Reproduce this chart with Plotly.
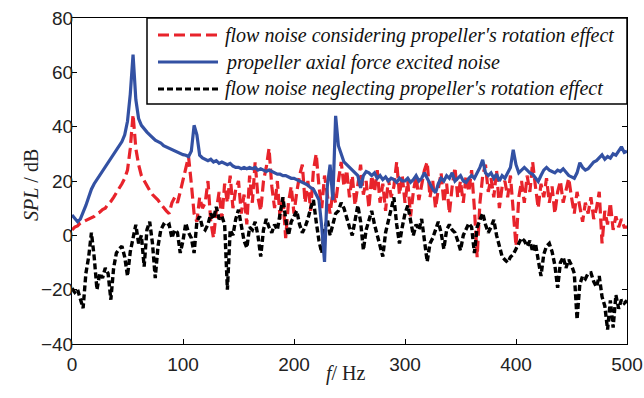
import numpy as np
import plotly.graph_objects as go

# frequency grid (Hz), 2.5 Hz step, 0..500
freq = [i * 2.5 for i in range(201)]

# flow noise considering propeller's rotation effect (dB)
spl_rot = [
    2, 3, 3.5, 4.5, 5, 5.5, 6, 6.5, 7, 8, 8.5, 9.5, 10, 11.5, 12.5, 14, 15.5, 17, 19, 21,
    24, 32, 44.5, 32, 26, 22, 20, 18, 16.5, 15, 14, 13, 11.5, 10, 9, 8, 12, 14, 12, 16,
    20, 24, 29, 19, 8, 5, 14, 10, 12, 20, 5, -1, 9, 16, 6, 19, 12, 22, 10, 17,
    20, 8, 15, 4, 22, 12, 27, 14, 9, 20, 25, 32, 18, 10, 20, 6, 14, -1, 12, 18,
    8, 16, 22, 26, 12, 20, 9, 24, 30, 18, 10, 22, 14, 8, 16, 12, 20, 27, 18, 24,
    14, 22, 11, 18, 26, 15, 20, 10, 22, 16, 24, 12, 19, 9, 21, 14, 18, 27, 15, 22,
    12, 20, 7, 16, 22, 13, 19, 24, 27, 14, 20, 10, 17, 23, 12, 19, 8, 18, 25, 14,
    20, 12, 22, 16, 24, 10, -8, 12, 22, 26, 16, 21, 14, 24, 10, 18, 20, 14, 22, 8,
    -4, 14, 20, 12, 22, 16, 27, 18, 10, 19, 14, 21, 12, 18, 8, 16, 20, 12, 17, 21,
    14, 8, 16, 11, 5, 12, 8, 14, 6, 10, 16, -3, 9, 4, 12, 2, 7, 3, 6, 3,
    3,
]

# propeller axial force excited noise (dB)
spl_axial = [
    7.5, 6, 5, 6, 8.3, 11, 14, 17, 19, 20.5, 22, 24, 25, 26.5, 28, 29.5, 31, 32.5, 34.5, 37,
    42, 52, 66.5, 50, 43, 40.5, 39, 38, 37, 36, 35, 34.5, 34, 33, 32.5, 32, 31.5, 31, 30.5, 30,
    29.7, 29.5, 29, 31, 40.5, 37, 29.5, 28.5, 28, 27.5, 28, 27, 27.5, 26.5, 27, 26.5, 26, 26.5, 25.5, 25,
    25, 24.5, 25, 24.5, 25, 24.5, 25, 24, 24.5, 24, 23.5, 24, 23.5, 23, 22.5, 22.5, 22, 22, 21.6, 21,
    21, 20.5, 20, 19.8, 19, 18.5, 17.5, 17, 15, 13, 3, -9.8, 18, 26, 13, 44, 33, 30, 27, 26,
    25, 24, 23, 22, 17.5, 22, 23.5, 23, 22, 23, 21, 22, 20.5, 21.5, 20, 21, 20.5, 19.5, 21, 20,
    20, 21, 19.5, 20.5, 22, 20, 21, 23, 21, 19, 17, 15.7, 19, 21, 20, 22, 21, 23, 20, 21,
    22, 20, 19.5, 21, 22, 21, 23, 25, 27.8, 23, 22, 23, 21, 22.5, 20, 22, 21, 23, 25, 31.5,
    26, 23, 24, 25, 24, 23, 22.5, 21, 19.8, 22, 24, 25, 24, 23.5, 23, 24, 23.5, 24.5, 23, 22,
    21.5, 21, 23, 26.7, 25, 24, 24.5, 26, 27, 27.5, 28.5, 29.6, 28, 29, 28.4, 30, 29.5, 31, 32.6, 30.5,
    31,
]

# flow noise neglecting propeller's rotation effect (dB)
spl_norot = [
    -19.5, -21, -20, -23, -26.8, -14, -8, 1, -8, -20, -14, -15.7, -12, -14, -23.7, -12, -6.5, -5, -4, -8,
    -15, -6, -1.6, 3.9, -3, 0, -11.5, 2, 5, -3, -15.7, -4, 2, 4, 3.2, 4, -1, 2, 1, -6.5,
    -2, 4.5, 1, -1, -6.5, 5, 7, 3, 2, 4, 8, 6, 10.5, 6, 7, 4, -20, 2, 0, 6,
    9.4, 4, -2, -4.6, 3, 2, 5, 0, -7.8, 2, 6, 3, 1, 4, 2, 8, 14, 6, 0, 5,
    7, 9, 4, 1, 3, 6, 10, 13, 5, -2, -6.5, 2, 6, 0, 4, 8, 9, 12, 10, 6,
    3, 0, 6, 11, 5, -5.4, 2, 6, 9, 4, 0, -4, -7.8, 1, 5, 10, 14, 4, -3, 3,
    8, 11, 6, 0, 4, 2, 6, -2, -9.7, -3, -1, 2, 5, 1, -5, 2, 4, 2, 1, -2,
    -5.5, 0, 2, 4.4, 3, -6.5, 3, 6, 8.2, 4, 1, 3, 5.7, 0, -4, -7.8, -9, -10, -8, -7,
    -5, -3, -1, -2, -4, -2, -6, -3, -9, -15, -7, -4, -3, -6, -11, -19.3, -10, -8, -12, -9,
    -11, -14, -31, -18, -15, -16, -14, -13.8, -17, -19, -15, -22.6, -26, -34.7, -24, -34, -22, -27, -23.7, -25,
    -24,
]

x_ticks = [0, 100, 200, 300, 400, 500]
y_ticks = [-40, -20, 0, 20, 40, 60, 80]

names = [
    "flow noise considering propeller's rotation effect",
    "propeller axial force excited noise",
    "flow noise neglecting propeller's rotation effect",
]
colors = ["#e8232b", "#3351a3", "#000000"]
dashes = ["11px,5px", "solid", "6px,3px"]

fig = go.Figure()
fig.add_trace(go.Scatter(x=freq, y=spl_rot, mode="lines", name=names[0],
                         line=dict(color=colors[0], width=3.2, dash=dashes[0])))
fig.add_trace(go.Scatter(x=freq, y=spl_norot, mode="lines", name=names[2],
                         line=dict(color=colors[2], width=3.4, dash=dashes[2])))
fig.add_trace(go.Scatter(x=freq, y=spl_axial, mode="lines", name=names[1],
                         line=dict(color=colors[1], width=3.2, dash=dashes[1])))

L, R, T, B = 72, 17, 18, 54
W, H = 644, 398
pw, ph = W - L - R, H - T - B

def px(xp):
    return (xp - L) / pw

def py(yp):
    return (H - B - yp) / ph

axis_common = dict(showline=True, linecolor="black", linewidth=1, mirror="ticks",
                   ticks="inside", ticklen=5, tickcolor="black", showgrid=False,
                   zeroline=False, automargin=False,
                   tickfont=dict(family="Liberation Sans, Arial", size=19, color="#222222"))

fig.update_layout(
    width=W, height=H, margin=dict(l=L, r=R, t=T, b=B),
    paper_bgcolor="white", plot_bgcolor="white", showlegend=False,
    xaxis=dict(range=[0, 500], tickvals=x_ticks, ticklabelstandoff=3, **axis_common),
    yaxis=dict(range=[-40, 80], tickvals=y_ticks, ticklabelstandoff=-6, **axis_common),
)

# axis titles
fig.add_annotation(xref="paper", yref="paper", x=px(346), y=py(387),
                   text="<i>f</i>/ Hz", showarrow=False,
                   font=dict(family="Liberation Serif, Times New Roman", size=20, color="#222222"))
fig.add_annotation(xref="paper", yref="paper", x=px(18), y=py(185),
                   text="<i>SPL</i> / dB", showarrow=False, textangle=-90,
                   font=dict(family="Liberation Serif, Times New Roman", size=20, color="#222222"))

# legend box
fig.add_shape(type="rect", xref="paper", yref="paper",
              x0=px(147), x1=px(627), y0=py(104), y1=py(18),
              line=dict(color="black", width=1.5), fillcolor="white", layer="above")
rows = [35, 62, 89]
order = [0, 1, 2]
for k, yr in zip(order, rows):
    fig.add_shape(type="line", xref="paper", yref="paper",
                  x0=px(158), x1=px(218), y0=py(yr), y1=py(yr),
                  line=dict(color=colors[k], width=3, dash=dashes[k]), layer="above")
    fig.add_annotation(xref="paper", yref="paper", x=px(223), y=py(yr),
                       xanchor="left", yanchor="middle", text="<i>" + names[k] + "</i>",
                       showarrow=False,
                       font=dict(family="Liberation Serif, Times New Roman", size=20, color="#111111"))

fig.write_html("out.html")
